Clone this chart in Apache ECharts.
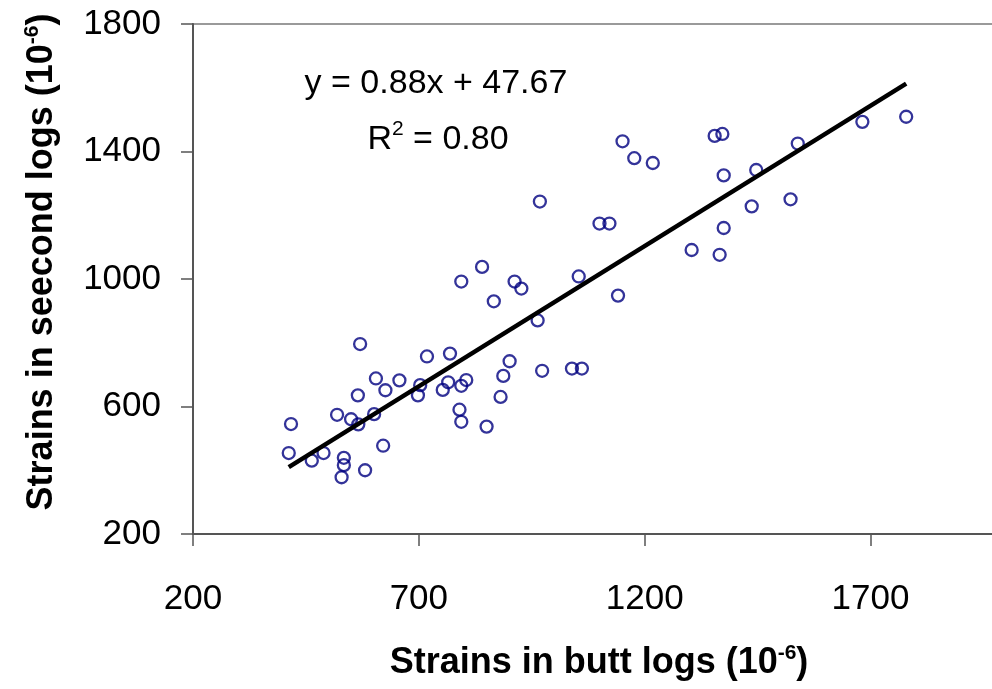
<!DOCTYPE html>
<html>
<head>
<meta charset="utf-8">
<script src="https://cdn.jsdelivr.net/npm/echarts@6/dist/echarts.min.js"></script>
<style>
html,body{margin:0;padding:0;background:#fff;overflow:hidden;width:992px;height:689px;}
#chart{width:1006px;height:689px;}
</style>
</head>
<body>
<div id="chart"></div>
<script>
// Strains in butt logs (x) vs strains in second logs (y), 10^-6
const buttStrain = [412, 417, 463, 489, 519, 534, 534, 529, 550, 566, 565, 570, 581, 601, 605, 621, 626, 657, 698, 703, 718, 753, 765, 769, 794, 805, 790, 794, 850, 881, 887, 901, 866, 840, 794, 912, 927, 963, 973, 1039, 1061, 968, 1054, 1100, 1122, 1141, 1151, 1177, 1218, 1304, 1355, 1372, 1366, 1375, 1375, 1437, 1447, 1523, 1539, 1682, 1779];
const secondStrain = [454, 545, 430, 454, 574, 439, 416, 378, 560, 544, 635, 796, 400, 576, 688, 477, 651, 682, 635, 667, 757, 652, 676, 766, 665, 683, 590, 552, 537, 630, 696, 742, 930, 1038, 992, 992, 970, 870, 712, 719, 719, 1243, 1008, 1174, 1174, 948, 1432, 1379, 1364, 1091, 1449, 1455, 1076, 1160, 1325, 1228, 1342, 1250, 1425, 1493, 1509];
// Linear trend line endpoints (y = 0.88x + 47.67)
const trendX = [412, 1779];
const trendY = [410, 1613];
const xTicks = [200, 700, 1200, 1700];
const yTicks = [200, 600, 1000, 1400, 1800];

const FONT = '"Liberation Sans", Arial, sans-serif';
const chart = echarts.init(document.getElementById('chart'), null, {renderer: 'canvas'});

const scatterData = buttStrain.map((x, i) => [x, secondStrain[i]]);
const trendData = trendX.map((x, i) => [x, trendY[i]]);

const supStyle = (bold) => ({fontSize: 21, fontWeight: bold ? 'bold' : 'normal', fontFamily: FONT, fill: '#000', lineHeight: 21, padding: [0, 0, 20, 0], verticalAlign: 'bottom'});

chart.setOption({
  animation: false,
  backgroundColor: '#ffffff',
  grid: {
    left: 193, top: 24, right: 0, bottom: 155,
    show: true, borderColor: '#9a9a9a', borderWidth: 2, backgroundColor: 'transparent'
  },
  xAxis: {
    type: 'value', min: 200, max: 2000,
    axisLine: {show: true, lineStyle: {color: '#555', width: 2}},
    axisTick: {show: true, inside: false, length: 12, lineStyle: {color: '#555', width: 1.5}, customValues: xTicks},
    axisLabel: {show: true, customValues: xTicks, margin: 48, color: '#000', fontSize: 35, fontFamily: FONT, formatter: v => String(v)},
    splitLine: {show: false}
  },
  yAxis: {
    type: 'value', min: 200, max: 1800,
    axisLine: {show: true, lineStyle: {color: '#555', width: 2}},
    axisTick: {show: true, inside: false, length: 12, lineStyle: {color: '#555', width: 1.5}, customValues: yTicks},
    axisLabel: {show: true, customValues: yTicks, margin: 32, color: '#000', fontSize: 35, fontFamily: FONT, formatter: v => String(v)},
    splitLine: {show: false}
  },
  series: [
    {
      type: 'scatter', data: scatterData, symbol: 'circle', symbolSize: 12,
      itemStyle: {color: 'rgba(0,0,0,0)', borderColor: '#000080', borderWidth: 2.3},
      z: 2
    },
    {
      type: 'line', data: trendData, showSymbol: false, symbol: 'none',
      lineStyle: {color: '#000', width: 4.5}, z: 3
    }
  ],
  graphic: [
    {
      type: 'text', x: 436, y: 84,
      style: {text: 'y = 0.88x + 47.67', font: '34px ' + FONT, fill: '#000', align: 'center', verticalAlign: 'middle'}
    },
    {
      type: 'text', x: 438, y: 140,
      style: {
        text: 'R{sup|2} = 0.80', font: '34px ' + FONT, fill: '#000', align: 'center', verticalAlign: 'middle', lineHeight: 40,
        rich: {sup: supStyle(false)}
      }
    },
    {
      type: 'text', x: 599, y: 663,
      style: {
        text: 'Strains in butt logs (10{sup|-6})', font: 'bold 36px ' + FONT, fill: '#000', align: 'center', verticalAlign: 'middle', lineHeight: 41,
        rich: {sup: supStyle(true)}
      }
    },
    {
      type: 'text', x: 42, y: 262, rotation: Math.PI / 2,
      style: {
        text: 'Strains in seecond logs (10{sup|-6})', font: 'bold 36px ' + FONT, fill: '#000', align: 'center', verticalAlign: 'middle', lineHeight: 41,
        rich: {sup: supStyle(true)}
      }
    }
  ]
});
</script>
</body>
</html>
